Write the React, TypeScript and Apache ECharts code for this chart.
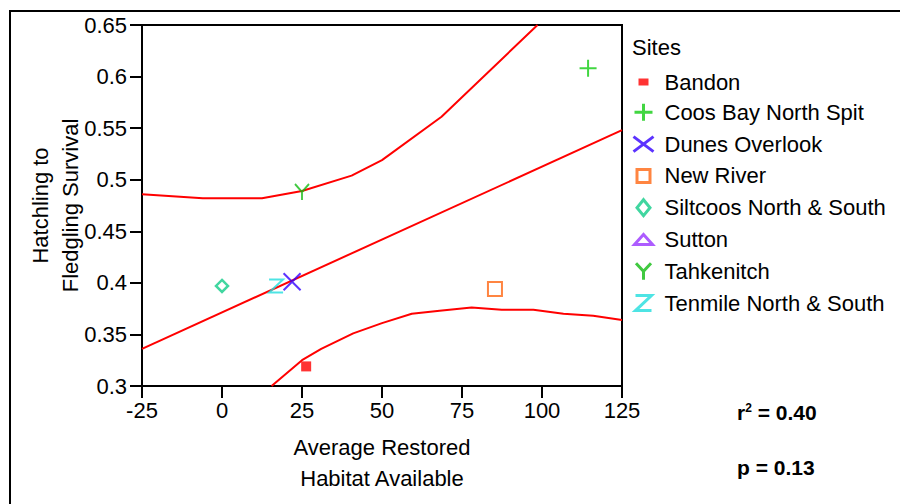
import React, { useEffect, useRef } from "react";
import * as echarts from "echarts";

// ---- data ----
const sites = [
  "Bandon",
  "Coos Bay North Spit",
  "Dunes Overlook",
  "New River",
  "Siltcoos North & South",
  "Sutton",
  "Tahkenitch",
  "Tenmile North & South",
];
const siteX: (number | null)[] = [26.3, 114.4, 21.9, 85.3, 0, null, 25, 16.9];
const siteY: (number | null)[] = [0.319, 0.608, 0.401, 0.394, 0.397, null, 0.488, 0.397];

const fitX = [-25, 125];
const fitY = [0.336, 0.548];
const upperX = [-25, -6, 12.5, 25, 40.5, 50, 68.6, 98.6];
const upperY = [0.486, 0.482, 0.482, 0.489, 0.504, 0.519, 0.561, 0.65];
const lowerX = [15.5, 25, 31, 41, 50, 59.3, 68, 78, 87.4, 97.3, 106.7, 116, 125];
const lowerY = [0.3, 0.325, 0.336, 0.351, 0.361, 0.37, 0.373, 0.376, 0.374, 0.374, 0.37, 0.368, 0.364];

const xMin = -25;
const xMax = 125;
const xStep = 25;
const yMin = 0.3;
const yMax = 0.65;
const yStep = 0.05;

const xTitle = "Average Restored\nHabitat Available";
const yTitle = "Hatchling to\nFledgling Survival";
const legendTitle = "Sites";
const r2Text = "0.40";
const pText = "0.13";

// ---- styles ----
const FONT = "'Liberation Sans', Arial, Helvetica, sans-serif";
const colors = ["#ff0000", "#11cc11", "#3300ff", "#ff6611", "#11cc88", "#9933ff", "#11bb11", "#22dddd"];
const symbols = [
  "rect",
  "path://M0,9L18,9M9,0L9,18",
  "path://M0,0L18,18M18,0L0,18",
  "rect",
  "diamond",
  "triangle",
  "path://M0,0L7,8L14,0M7,8L7,16",
  "path://M0,0L14,0L0,13L14,13",
];
const symbolSizes: any[] = [10, 17, 17, 14, 12, 14, [14, 16], [14, 13]];
const filled = [true, false, false, false, false, false, false, false];
const borderWidths = [0, 2, 2, 2, 2.5, 2, 2, 2];

const pad = "M0,0M32,24";
const legendIcons = [
  "path://" + pad + "M11,8.5L21,8.5L21,15.5L11,15.5Z",
  "path://" + pad + "M7,12L25,12M16,3.5L16,20.5",
  "path://" + pad + "M6,4.5L26,19.5M26,4.5L6,19.5",
  "path://" + pad + "M9.5,5.5L22.5,5.5L22.5,18.5L9.5,18.5Z",
  "path://" + pad + "M16,4L22.5,12L16,20L9.5,12Z",
  "path://" + pad + "M16,7L25,17L7,17Z",
  "path://" + pad + "M8.5,4L16,12L23.5,4M16,12L16,20.5",
  "path://" + pad + "M8,4.5L24,4.5L8,19.5L24,19.5",
];

function pairs(xs: number[], ys: number[]) {
  return xs.map((x, i) => [x, ys[i]]);
}

export default function App() {
  const ref = useRef<HTMLDivElement>(null);
  useEffect(() => {
    if (!ref.current) return;
    const chart = echarts.init(ref.current, undefined, { renderer: "svg" });

    const scatterSeries = sites.map((name, i) => ({
      name,
      type: "scatter",
      symbol: symbols[i],
      symbolSize: symbolSizes[i],
      data: siteX[i] === null ? [] : [[siteX[i], siteY[i]]],
      itemStyle: filled[i]
        ? { color: colors[i] }
        : { color: "transparent", borderColor: colors[i], borderWidth: borderWidths[i] },
      z: 5,
    }));

    const lineStyle = { color: "#ff0000", width: 2 };
    const lineSeries = [
      { name: "fit", data: pairs(fitX, fitY) },
      { name: "upper", data: pairs(upperX, upperY) },
      { name: "lower", data: pairs(lowerX, lowerY) },
    ].map((s) => ({
      name: s.name,
      type: "line",
      data: s.data,
      showSymbol: false,
      symbol: "none",
      lineStyle,
      clip: true,
      z: 3,
    }));

    chart.setOption({
      animation: false,
      backgroundColor: "#ffffff",
      grid: {
        left: 142,
        top: 25,
        width: 480,
        height: 361,
        show: true,
        borderColor: "#000",
        borderWidth: 2,
        backgroundColor: "transparent",
      },
      xAxis: {
        type: "value",
        min: xMin,
        max: xMax,
        interval: xStep,
        name: xTitle,
        nameLocation: "middle",
        nameGap: 46,
        nameMoveOverlap: false,
        nameTextStyle: { fontFamily: FONT, fontSize: 22, color: "#000", lineHeight: 31 },
        axisLine: { show: true, onZero: false, lineStyle: { color: "#000", width: 2 } },
        axisTick: { show: true, length: 12, inside: false, lineStyle: { color: "#000", width: 2 } },
        axisLabel: { fontFamily: FONT, fontSize: 22, color: "#000", margin: 13 },
        splitLine: { show: false },
      },
      yAxis: {
        type: "value",
        min: yMin,
        max: yMax,
        interval: yStep,
        name: yTitle,
        nameLocation: "middle",
        nameGap: 57,
        nameMoveOverlap: false,
        nameTextStyle: { fontFamily: FONT, fontSize: 22, color: "#000", lineHeight: 30 },
        axisLine: { show: true, onZero: false, lineStyle: { color: "#000", width: 2 } },
        axisTick: { show: true, length: 12, inside: false, lineStyle: { color: "#000", width: 2 } },
        axisLabel: {
          fontFamily: FONT,
          fontSize: 22,
          color: "#000",
          margin: 15,
          formatter: (v: number) => String(+v.toFixed(2)),
        },
        splitLine: { show: false },
      },
      legend: {
        orient: "vertical",
        left: 626,
        top: 70,
        itemWidth: 32,
        itemHeight: 24,
        itemGap: 4.8,
        padding: 0,
        selectedMode: false,
        textStyle: { fontFamily: FONT, fontSize: 22, color: "#000", lineHeight: 24 },
        data: sites.map((name, i) => ({
          name,
          icon: legendIcons[i],
          itemStyle: { borderWidth: filled[i] ? 0 : 3 },
        })),
      },
      graphic: [
        {
          type: "rect",
          shape: { x: 10, y: 11, width: 1000, height: 1000 },
          style: { fill: "none", stroke: "#000", lineWidth: 2 },
          silent: true,
        },
        {
          type: "text",
          left: 632,
          top: 36,
          style: { text: legendTitle, font: `22px ${FONT}`, fill: "#000" },
        },
        {
          type: "text",
          left: 737,
          top: 402,
          style: {
            text: `{a|r}{s|2}{a| = ${r2Text}}`,
            rich: {
              a: { font: `bold 21px ${FONT}`, fill: "#000", verticalAlign: "bottom" },
              s: { font: `bold 12px ${FONT}`, fill: "#000", verticalAlign: "top", padding: [0, 0, 9, 0] },
            },
          },
        },
        {
          type: "text",
          left: 737,
          top: 457,
          style: { text: `p = ${pText}`, font: `bold 21px ${FONT}`, fill: "#000" },
        },
      ],
      series: [...lineSeries, ...scatterSeries],
    });

    return () => chart.dispose();
  }, []);

  return (
    <div
      ref={ref}
      style={{ position: "fixed", left: 0, top: 0, width: 900, height: 504, background: "#fff" }}
    />
  );
}
